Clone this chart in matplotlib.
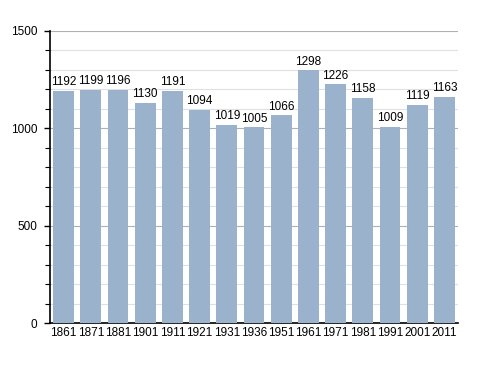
import matplotlib
matplotlib.use("Agg")
import matplotlib.pyplot as plt
from matplotlib.ticker import MultipleLocator

years = ["1861", "1871", "1881", "1901", "1911", "1921", "1931", "1936", "1951",
         "1961", "1971", "1981", "1991", "2001", "2011"]
population = [1192, 1199, 1196, 1130, 1191, 1094, 1019, 1005, 1066,
              1298, 1226, 1158, 1009, 1119, 1163]

plt.rcParams['font.family'] = ['Liberation Sans', 'DejaVu Sans']

fig = plt.figure(figsize=(4.88, 3.73), dpi=100)
ax = fig.add_axes([0.1025, 0.134, 0.836, 0.783])

x = list(range(len(years)))
ax.bar(x, population, width=0.76, color='#9bb2cd', edgecolor='none', zorder=3)
for xi, v in zip(x, population):
    ax.text(xi, v + 14, str(v), ha='center', va='bottom', fontsize=8.5, zorder=4)

ax.set_xlim(-0.5, len(years) - 0.5)
ax.set_ylim(0, 1500)
ax.set_xticks(x)
ax.set_xticklabels(years, fontsize=8.5)
ax.yaxis.set_major_locator(MultipleLocator(500))
ax.yaxis.set_minor_locator(MultipleLocator(100))
ax.tick_params(axis='y', which='major', labelsize=8.5, length=4, width=1, direction='out', pad=5)
ax.tick_params(axis='y', which='minor', length=3.5, width=0.8, direction='out')
ax.tick_params(axis='x', length=0, pad=3)

ax.grid(axis='y', which='major', color='#b0b0b0', linewidth=0.8, zorder=0)
ax.grid(axis='y', which='minor', color='#e0e0e0', linewidth=0.8, zorder=0)
for s in ['top', 'right']:
    ax.spines[s].set_visible(False)
ax.spines['left'].set_linewidth(1.2)
ax.spines['bottom'].set_linewidth(1.2)

fig.savefig("out.png", dpi=100)
